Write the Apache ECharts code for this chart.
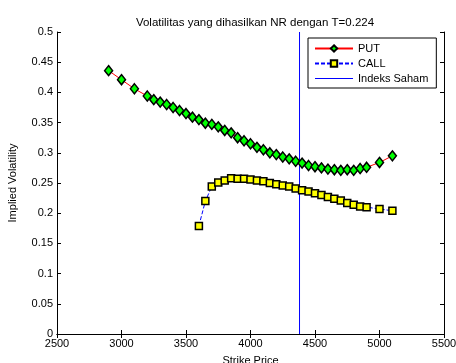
<!DOCTYPE html>
<html>
<head>
<meta charset="utf-8">
<script src="https://cdn.jsdelivr.net/npm/echarts@6/dist/echarts.min.js"></script>
<style>
html,body{margin:0;padding:0;background:#fff;}
#chart{width:456px;height:363px;}
</style>
</head>
<body>
<div id="chart"></div>
<script>
var putStrikes = [2900, 3000, 3100, 3200, 3250, 3300, 3350, 3400, 3450, 3500, 3550, 3600, 3650, 3700, 3750, 3800, 3850, 3900, 3950, 4000, 4050, 4100, 4150, 4200, 4250, 4300, 4350, 4400, 4450, 4500, 4550, 4600, 4650, 4700, 4750, 4800, 4850, 4900, 5000, 5100];
var putVol = [0.436, 0.421, 0.406, 0.394, 0.388, 0.384, 0.380, 0.375, 0.370, 0.365, 0.359, 0.355, 0.349, 0.347, 0.343, 0.337, 0.333, 0.325, 0.320, 0.315, 0.309, 0.305, 0.300, 0.297, 0.293, 0.290, 0.286, 0.283, 0.279, 0.277, 0.275, 0.273, 0.272, 0.271, 0.272, 0.271, 0.274, 0.276, 0.284, 0.295];
var callStrikes = [3600, 3650, 3700, 3750, 3800, 3850, 3900, 3950, 4000, 4050, 4100, 4150, 4200, 4250, 4300, 4350, 4400, 4450, 4500, 4550, 4600, 4650, 4700, 4750, 4800, 4850, 4900, 5000, 5100];
var callVol = [0.179, 0.220, 0.244, 0.251, 0.254, 0.258, 0.257, 0.257, 0.256, 0.254, 0.253, 0.250, 0.248, 0.246, 0.244, 0.241, 0.238, 0.236, 0.233, 0.230, 0.227, 0.224, 0.221, 0.217, 0.214, 0.211, 0.210, 0.207, 0.204];
var indexLevel = 4380;
var indexLineY = [0, 0.5];

function pairs(xs, ys){ return xs.map(function(x,i){ return [x, ys[i]]; }); }

var FONT = 'Liberation Sans, Arial, sans-serif';
var chart = echarts.init(document.getElementById('chart'), null, {renderer:'canvas'});
var axisCommon = {
  axisLine:{show:true, lineStyle:{color:'#000', width:1}},
  axisTick:{show:true, inside:true, length:4, lineStyle:{color:'#000'}},
  splitLine:{show:false}
};
chart.setOption({
  animation:false,
  backgroundColor:'#fff',
  title:{
    text:'Volatilitas yang dihasilkan NR dengan T=0.224',
    left:250, top:12, textAlign:'center',
    textStyle:{fontFamily:FONT, fontSize:11.5, fontWeight:'normal', color:'#000'}
  },
  legend:{
    orient:'vertical', left:308, top:38,
    backgroundColor:'#fff', borderColor:'#000', borderWidth:1,
    padding:[5,8,4,6], itemGap:4, itemWidth:38, itemHeight:8,
    textStyle:{fontFamily:FONT, fontSize:11, color:'#000'},
    data:[
      'PUT',
      'CALL',
      {name:'Indeks Saham', icon:'path://M0,0 L38,0 L38,1 L0,1 Z'}
    ]
  },
  grid:{left:57, right:12, top:32, bottom:29, containLabel:false, outerBoundsMode:'none'},
  xAxis:[
    Object.assign({
      type:'value', min:2500, max:5500, interval:500, position:'bottom',
      name:'Strike Price', nameLocation:'middle', nameGap:21,
      nameTextStyle:{fontFamily:FONT, fontSize:11, color:'#000'},
      axisLabel:{fontFamily:FONT, fontSize:11, color:'#000', margin:4,
        formatter:function(v){ return String(v); }}
    }, axisCommon),
    Object.assign({
      type:'value', min:2500, max:5500, interval:500, position:'top',
      axisLabel:{show:false}
    }, axisCommon)
  ],
  yAxis:[
    Object.assign({
      type:'value', min:0, max:0.5, interval:0.05, position:'left',
      name:'Implied Volatility', nameLocation:'middle', nameGap:39,
      nameTextStyle:{fontFamily:FONT, fontSize:11, color:'#000'},
      axisLabel:{fontFamily:FONT, fontSize:11, color:'#000', margin:4}
    }, axisCommon),
    Object.assign({
      type:'value', min:0, max:0.5, interval:0.05, position:'right',
      axisLabel:{show:false}
    }, axisCommon)
  ],
  series:[
    {
      name:'PUT', type:'line', data:pairs(putStrikes, putVol),
      symbol:'diamond', symbolSize:[8,10],
      lineStyle:{color:'#ff0000', width:1},
      itemStyle:{color:'#00ff00', borderColor:'#000', borderWidth:1.5},
      z:3
    },
    {
      name:'CALL', type:'line', data:pairs(callStrikes, callVol),
      symbol:'rect', symbolSize:7,
      lineStyle:{color:'#0000ff', width:1, type:[4,2]},
      itemStyle:{color:'#ffff00', borderColor:'#000', borderWidth:1.5},
      z:3
    },
    {
      name:'Indeks Saham', type:'line',
      data:indexLineY.map(function(y){ return [indexLevel, y]; }),
      symbol:'none', showSymbol:false,
      lineStyle:{color:'#0000ff', width:1},
      itemStyle:{color:'#0000ff'},
      z:2
    }
  ]
});
</script>
</body>
</html>
